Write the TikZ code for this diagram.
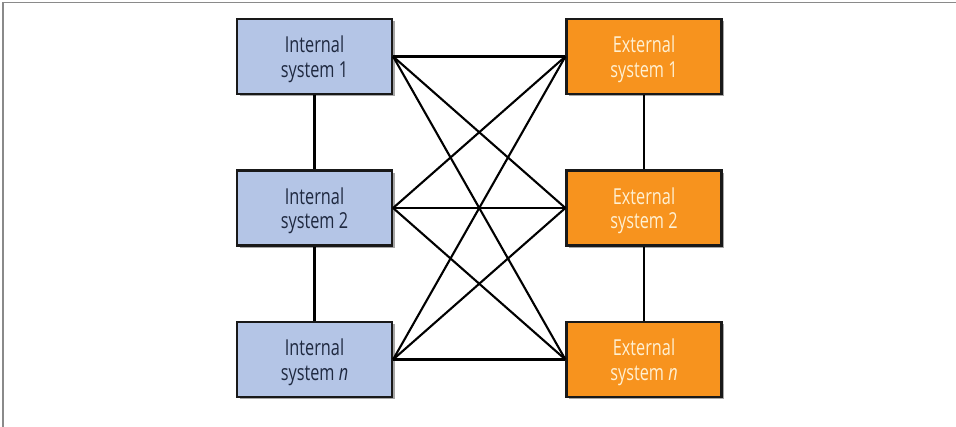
\documentclass[tikz,border=0pt]{standalone}
\usepackage{fontspec}
\setmainfont{Open Sans}[FakeStretch=0.74]
\usetikzlibrary{shadows}
\definecolor{intfill}{HTML}{B4C5E6}
\definecolor{inttext}{HTML}{1F2940}
\definecolor{extfill}{HTML}{F7931E}
\definecolor{exttext}{HTML}{FFF0D2}
\definecolor{frame}{HTML}{8A8A8A}
\tikzset{
  sysbox/.style={draw=black!90, line width=2.2pt, minimum width=155pt, minimum height=75pt,
    align=center, text depth=0pt, font=\fontsize{22}{24.5}\selectfont,
    drop shadow={shadow xshift=2.5pt, shadow yshift=-2.5pt, opacity=0.35, fill=black}},
  intbox/.style={sysbox, fill=intfill, text=inttext},
  extbox/.style={sysbox, fill=extfill, text=exttext},
  link/.style={line width=2.1pt, black}
}
\begin{document}
\begin{tikzpicture}[x=1pt,y=-1pt]
\useasboundingbox (0,0) rectangle (956,427);
% thin frame along the top and left edges
\draw[frame, line width=1.5pt] (3,427) -- (3,2.5) -- (956,2.5);

% internal systems on the left, external systems on the right
\node[intbox] (i1) at (314.5,56.5) {Internal\\system 1};
\node[intbox] (i2) at (314.5,208) {Internal\\system 2};
\node[intbox] (in) at (314.5,359.5) {Internal\\system \textit{n}};
\node[extbox] (e1) at (644,56.5) {External\\system 1};
\node[extbox] (e2) at (644,208) {External\\system 2};
\node[extbox] (en) at (644,359.5) {External\\system \textit{n}};

% links within each column
\draw[link] (i1) -- (i2);
\draw[link] (i2) -- (in);
\draw[link] (e1) -- (e2);
\draw[link] (e2) -- (en);
% every internal system talks to every external one
\foreach \a in {i1,i2,in}
  \foreach \b in {e1,e2,en}
    \draw[link] (\a.east) -- (\b.west);
\end{tikzpicture}
\end{document}
